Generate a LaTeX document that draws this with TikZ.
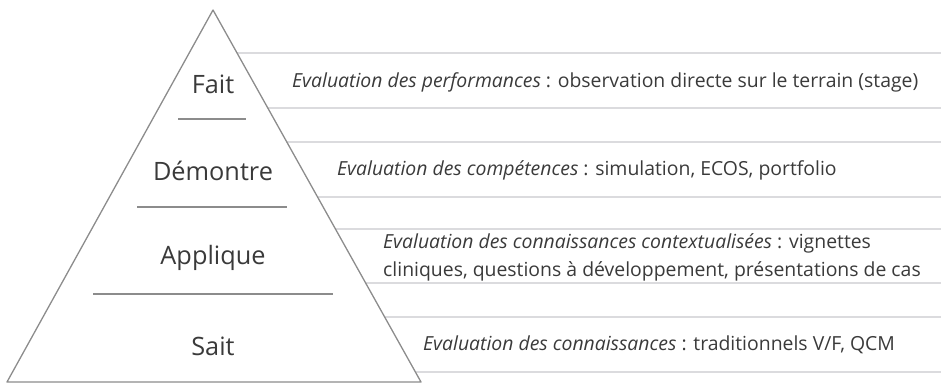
\documentclass[tikz,border=0pt]{standalone}
\usepackage{fontspec}
\setmainfont{Open Sans}
\usepackage{xcolor}
\usetikzlibrary{calc,positioning}
\definecolor{edgegray}{HTML}{8C8C8C}
\definecolor{rulegray}{HTML}{C8C8CC}
\definecolor{textgray}{HTML}{3A3A3A}
\tikzset{
  level/.style={text=textgray,font=\fontsize{25.3}{30}\selectfont},
  desc/.style={text=textgray,anchor=west,align=left,inner sep=0pt,
    font=\fontsize{19.4}{28}\selectfont},
  rowline/.style={rulegray,line width=1.3pt},
  stepline/.style={edgegray,line width=1.3pt}
}
\begin{document}
\begin{tikzpicture}[x=1pt,y=-1pt]
            \useasboundingbox (0,0) rectangle (941,383);
            % Define points
            \coordinate (T) at (213,10);
            \coordinate (L) at (7,382);
            \coordinate (R) at (421,382);
            % Rules to the right of the pyramid
            \foreach \y in {53,108,142,197,229,283,317,372}
              \draw[rowline] ($(T)!{(\y-10)/372}!(R)$) -- (941,\y);
            % The pyramid
            \draw[stepline,line join=round] (T) -- (L) -- (R) -- cycle;
            \draw[stepline] (178,119) -- (246,119);
            \draw[stepline] (137,207) -- (287,207);
            \draw[stepline] (93,294) -- (333,294);
            % Levels
            \node[level] (fait) at (213,84) {Fait};
            \node[level] (demontre) at (213,171) {Démontre};
            \node[level] (applique) at (213,258) {Applique};
            \node[level] (sait) at (213,346) {Sait};
            % Assessment of each level
            \node[desc] (perf) at (292,82) {\textit{Evaluation des performances} : observation directe sur le terrain (stage)};
            \node[desc] (comp) at (337,170) {\textit{Evaluation des compétences} : simulation, ECOS, portfolio};
            \node[desc] (ctx) at (383,257) {\textit{Evaluation des connaissances contextualisées} : vignettes\\cliniques, questions à développement, présentations de cas};
            \node[desc] (conn) at (423,345) {\textit{Evaluation des connaissances} : traditionnels V/F, QCM};
\end{tikzpicture}
\end{document}
